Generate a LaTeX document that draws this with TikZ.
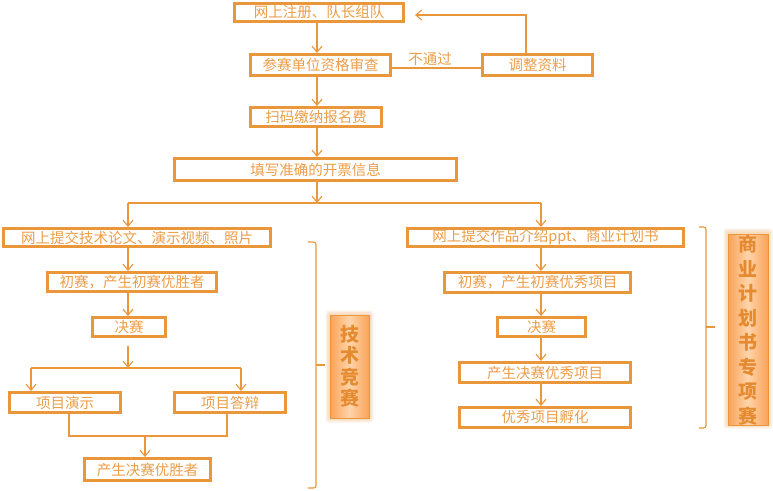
\documentclass[tikz,border=0pt]{standalone}
\usepackage{fontspec}
\setmainfont{Noto Sans CJK SC}
\usetikzlibrary{arrows.meta,calc}
\definecolor{oline}{RGB}{234,150,58}
\definecolor{otext}{RGB}{236,158,72}
\definecolor{sidedark}{RGB}{249,163,88}
\definecolor{sidelight}{RGB}{255,212,170}
\definecolor{sidetext}{RGB}{230,138,48}
\tikzset{
  box/.style={draw=oline, line width=2.6pt, fill=white, inner sep=0pt,
    text=otext, font=\fontsize{14.5}{16}\selectfont, anchor=center},
  conn/.style={draw=oline, line width=1.1pt},
  arr/.style={conn, -{Straight Barb[length=6pt,width=10pt,line width=1.1pt]}},
  sidebox/.style={draw=oline, line width=0.8pt, inner sep=0pt,
    shading=axis, left color=sidedark, right color=sidedark, middle color=sidelight,
    text=sidetext, align=center},
  halo/.style={fill=oline, opacity=0.12, rounded corners=3pt},
  bracket/.style={draw=oline, line width=1.1pt, rounded corners=2.5pt}
}
\begin{document}
\begin{tikzpicture}[x=1pt,y=-1pt]
\useasboundingbox (0,0) rectangle (773,490);
\fill[white] (0,0) rectangle (773,490);

\node[box, minimum width=169.4pt, minimum height=18.4pt] (b1) at (319,12.5) {网上注册、队长组队};
\node[box, minimum width=140.4pt, minimum height=21.4pt] (b2) at (320.5,65) {参赛单位资格审查};
\node[box, minimum width=110.4pt, minimum height=21.4pt] (badj) at (537.5,65) {调整资料};
\node[box, minimum width=131.4pt, minimum height=19.4pt] (b3) at (316,117) {扫码缴纳报名费};
\node[box, minimum width=282.4pt, minimum height=22.4pt] (b4) at (315.5,169.5) {填写准确的开票信息};
\node[box, minimum width=267.4pt, minimum height=18.4pt] (L1) at (137,237.5) {网上提交技术论文、演示视频、照片};
\node[box, minimum width=276.4pt, minimum height=18.4pt] (R1) at (545.5,237.5) {网上提交作品介绍ppt、商业计划书};
\node[box, minimum width=169.4pt, minimum height=19.4pt] (L2) at (132,282) {初赛，产生初赛优胜者};
\node[box, minimum width=73.4pt, minimum height=19.4pt] (L3) at (129,327) {决赛};
\node[box, minimum width=111.4pt, minimum height=20.4pt] (L4a) at (65,402.5) {项目演示};
\node[box, minimum width=111.4pt, minimum height=20.4pt] (L4b) at (230,402.5) {项目答辩};
\node[box, minimum width=126.4pt, minimum height=22.4pt] (L5) at (147.5,469.5) {产生决赛优胜者};
\node[box, minimum width=186.4pt, minimum height=20.4pt] (R2) at (537.5,282.5) {初赛，产生初赛优秀项目};
\node[box, minimum width=88.4pt, minimum height=19.4pt] (R3) at (541.5,327) {决赛};
\node[box, minimum width=171.4pt, minimum height=20.4pt] (R4) at (545,372.5) {产生决赛优秀项目};
\node[box, minimum width=171.4pt, minimum height=20.4pt] (R5) at (545,417.5) {优秀项目孵化};

\coordinate (cx) at (317,0);
\coordinate (lx) at (128,0);
\coordinate (rx) at (541,0);

\draw[arr] (b1.south -| cx) -- (b2.north -| cx);
\draw[arr] (b2.south -| cx) -- (b3.north -| cx);
\draw[arr] (b3.south -| cx) -- (b4.north -| cx);
\coordinate (split) at (317,203);
\draw[arr] (b4.south -| cx) -- (split);
\draw[conn] (split -| lx) -- (split -| rx);
\draw[arr] (split -| lx) -- (L1.north -| lx);
\draw[arr] (split -| rx) -- (R1.north -| rx);

\coordinate (fb) at (526,15);
\draw[conn] ($(b2.east)+(0,3)$) -- ($(badj.west)+(0,3)$);
\node[text=otext, font=\fontsize{14.5}{16}\selectfont] (nolab) at (430,59) {不通过};
\draw[arr, shorten >=10pt] (badj.north -| fb) -- (fb) -- (fb -| b1.east);

\draw[arr] (L1.south -| lx) -- (L2.north -| lx);
\draw[arr] (L2.south -| lx) -- (L3.north -| lx);
\coordinate (ls1) at (128,346);
\coordinate (ls2) at (128,368);
\draw[arr] (ls1) -- (ls2);
\coordinate (la) at (31,368);
\coordinate (lb) at (241,368);
\draw[conn] (la) -- (lb);
\draw[arr] (la) -- (L4a.north -| la);
\draw[arr] (lb) -- (L4b.north -| lb);
\coordinate (ma) at (69,436);
\coordinate (mb) at (227,436);
\coordinate (mc) at (145,436);
\draw[conn] (L4a.south -| ma) -- (ma) -- (mb) -- (L4b.south -| mb);
\draw[arr] (mc) -- (L5.north -| mc);

\draw[arr] (R1.south -| rx) -- (R2.north -| rx);
\draw[arr] (R2.south -| rx) -- (R3.north -| rx);
\draw[arr] (R3.south -| rx) -- (R4.north -| rx);
\draw[arr] (R4.south -| rx) -- (R5.north -| rx);

\draw[bracket] (308,242) -- (316,242) -- (316,488) -- (308,488);
\draw[conn] (316,365) -- (325,365);
\draw[bracket] (699,227) -- (706,227) -- (706,428) -- (699,428);
\draw[conn] (706,327) -- (715,327);

\foreach \k in {1,2,3}{
  \fill[halo] (330-\k*1.5,315-\k*1.5) rectangle (369+\k*1.5,418+\k*1.5);
  \fill[halo] (728-\k*1.5,233-\k*1.5) rectangle (768+\k*1.5,424+\k*1.5);
}
\node[sidebox, minimum width=39pt, minimum height=103pt, font=\bfseries\fontsize{19}{21.5}\selectfont] (SL) at (349.5,366.5) {技\\术\\竞\\赛};
\node[sidebox, minimum width=40pt, minimum height=191pt, font=\bfseries\fontsize{19}{24.5}\selectfont] (SR) at (748,330) {商\\业\\计\\划\\书\\专\\项\\赛};
\end{tikzpicture}
\end{document}
